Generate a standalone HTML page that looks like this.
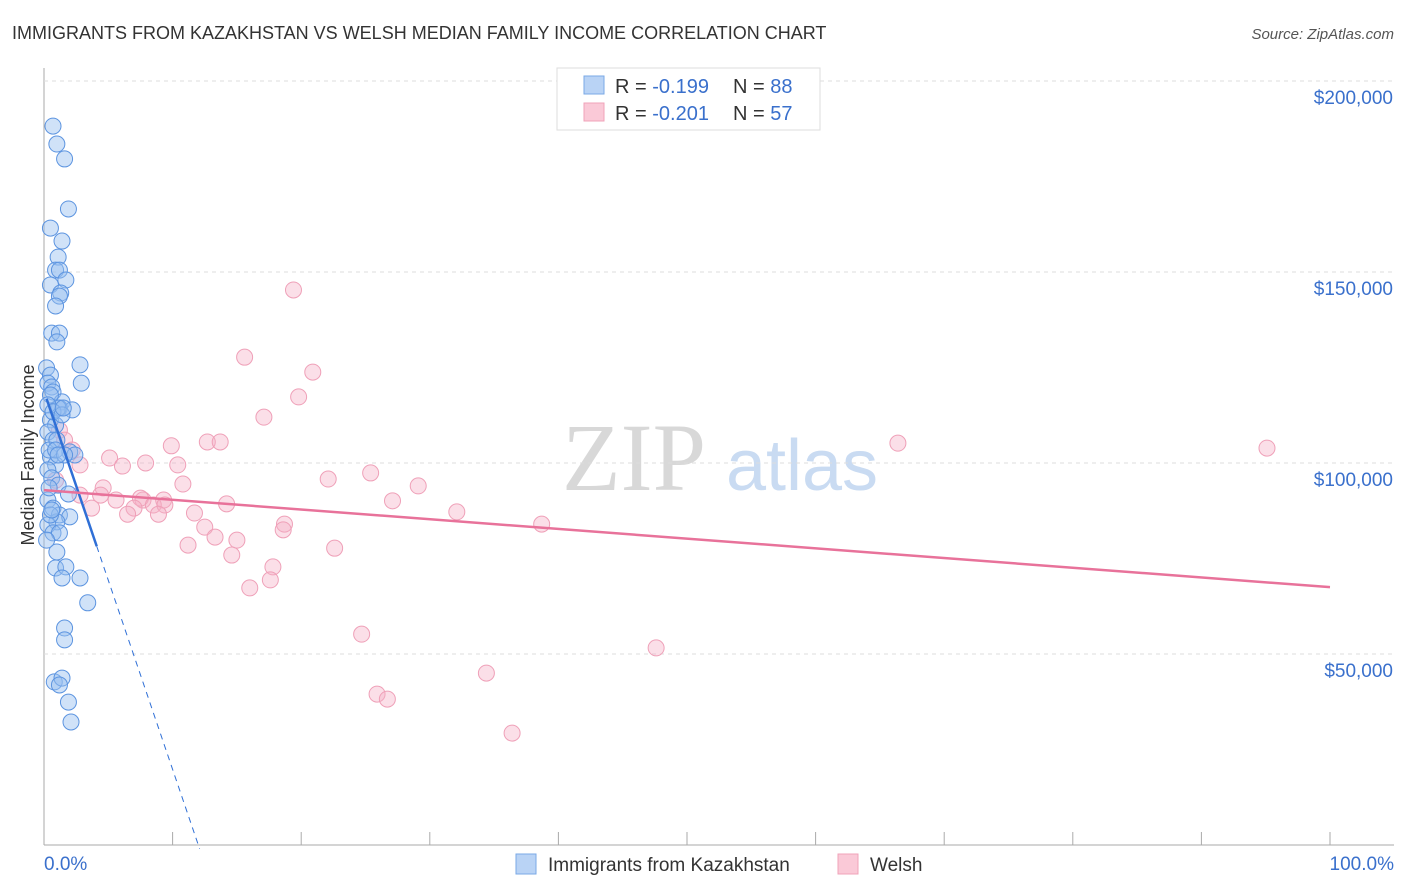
<!DOCTYPE html>
<html><head><meta charset="utf-8"><style>
body{margin:0;background:#fff;font-family:"Liberation Sans",sans-serif;}
#wrap{position:relative;width:1406px;height:892px;overflow:hidden;}
</style></head><body>
<div id="wrap">
<svg id="svg" width="1406" height="892" xmlns="http://www.w3.org/2000/svg">
<text x="12" y="39" font-size="18" fill="#333">IMMIGRANTS FROM KAZAKHSTAN VS WELSH MEDIAN FAMILY INCOME CORRELATION CHART</text>
<text x="1394" y="39" font-size="15" fill="#555" font-style="italic" text-anchor="end">Source: ZipAtlas.com</text>
<text x="34" y="455" font-size="18" fill="#333" text-anchor="middle" transform="rotate(-90 34 455)">Median Family Income</text>
<g>
<text x="634" y="490" font-size="96" fill="#d8d8d8" text-anchor="middle" font-family="Liberation Serif">ZIP</text>
<text x="802" y="490" font-size="72" fill="#c9dbf2" text-anchor="middle">atlas</text>
</g>
<g id="grid"></g><g id="pts"></g><g id="lines"></g>
<g>
<rect x="557" y="68" width="263" height="62" fill="#fff" stroke="#ddd"/>
<rect x="584" y="76" width="20" height="18" fill="#b9d3f5" stroke="#7aa8e6"/>
<rect x="584" y="103" width="20" height="18" fill="#fac9d7" stroke="#f0a3ba"/>
<text x="615" y="93" font-size="20" fill="#333">R = <tspan fill="#3a70cc">-0.199</tspan><tspan x="733">N = </tspan><tspan fill="#3a70cc">88</tspan></text>
<text x="615" y="120" font-size="20" fill="#333">R = <tspan fill="#3a70cc">-0.201</tspan><tspan x="733">N = </tspan><tspan fill="#3a70cc">57</tspan></text>
</g>
<g>
<rect x="516" y="854" width="20" height="20" fill="#b9d3f5" stroke="#7aa8e6"/>
<text x="548" y="871" font-size="19" fill="#333">Immigrants from Kazakhstan</text>
<rect x="838" y="854" width="20" height="20" fill="#fac9d7" stroke="#f0a3ba"/>
<text x="870" y="871" font-size="19" fill="#333">Welsh</text>
</g>
<text x="44" y="870" font-size="19" fill="#3a70cc">0.0%</text>
<text x="1394" y="870" font-size="19" fill="#3a70cc" text-anchor="end">100.0%</text>
</svg>
</div>
<script>
const yTicks=[50,100,150,200];
const yTickLabels=["$50,000","$100,000","$150,000","$200,000"];
const blueX=[.7,1.0,1.6,1.9,.5,1.4,1.1,.9,1.2,1.7,.5,1.3,1.2,.9,.6,1.2,1.0,2.8,2.9,.2,.5,.3,.6,.7,1.4,1.2,2.2,1.1,.5,.9,.3,.7,1.0,2.0,2.4,.5,.9,.3,.6,1.1,1.9,.3,.7,1.2,2.0,1.0,.3,.7,1.2,1.0,.9,1.7,1.4,2.8,3.4,1.6,1.6,.8,1.4,1.2,1.9,2.1,.5,.3,.7,1.4,.4,.9,.4,.5,.2,.6,1.6,1.1,1.5];
const blueY=[188.2,183.5,179.6,166.5,161.5,158.1,153.9,150.5,150.5,147.9,146.6,144.5,143.7,141.1,134,134,131.7,125.7,120.9,124.9,123,120.9,119.9,118.6,116,114.4,113.9,114.4,111.3,109.9,108.1,106,106,102.9,102.1,101.6,99.5,98.2,96.1,94.2,91.9,90.3,88.2,86.4,85.9,84.6,83.8,81.7,81.7,76.7,72.5,72.8,69.9,69.9,63.4,56.8,53.7,42.7,43.7,41.9,37.4,32.2,117.8,115.2,113.4,112.6,103.4,103.4,93.5,86.4,79.8,87.7,102.1,102.1,114.4];
const pinkX=[19.4,15.6,20.9,19.8,17.1,66.4,95.1,12.7,13.7,9.9,5.1,7.9,10.4,6.1,25.4,22.1,29.1,10.8,27.1,14.2,7.7,4.6,4.4,5.6,9.3,7.5,8.5,9.4,7.0,6.5,8.9,11.7,32.1,18.7,18.6,12.5,13.3,38.7,11.2,15.0,22.6,14.6,17.8,17.6,16.0,24.7,47.6,34.4,25.9,26.7,36.4,1.2,1.6,2.2,2.8,.9,3.7,2.8];
const pinkY=[145.3,127.7,123.8,117.3,112,105.2,103.9,105.5,105.5,104.5,101.3,100,99.5,99.2,97.4,95.8,94,94.5,90.1,89.3,90.3,93.5,91.6,90.3,90.3,90.8,89,89,88.2,86.6,86.6,86.9,87.2,84,82.5,83.2,80.6,84,78.5,79.8,77.7,75.9,72.8,69.4,67.3,55.2,51.6,45,39.5,38.2,29.3,108.6,106,103.4,99.5,95.5,88.2,91.6];
const blueTrend=[118.8,-9.9]; // intercept, slope per %
const pinkTrend=[92.9,-0.254];
const xs=v=>44+v*12.86, ys=v=>654-(v-50)*3.82;
const NS="http://www.w3.org/2000/svg";
function mk(t,a,p){const e=document.createElementNS(NS,t);for(const k in a)e.setAttribute(k,a[k]);p.appendChild(e);return e;}
const grid=document.getElementById('grid'),pts=document.getElementById('pts'),lines=document.getElementById('lines');
let ax=mk('line',{x1:44,y1:68,x2:44,y2:845,stroke:'#aaa'},grid);


let bx=mk('line',{x1:44,y1:845,x2:1394,y2:845,stroke:'#aaa'},grid);


for(let i=0;i<=10;i++){const t=mk('line',{x1:xs(i*10),y1:832,x2:xs(i*10),y2:845,stroke:'#aaa'},grid);

}
yTicks.forEach((v,i)=>{const g=mk('line',{x1:44,y1:ys(v),x2:1394,y2:ys(v),stroke:'#ddd','stroke-dasharray':'4,4'},grid);


const t=mk('text',{x:1393,y:ys(v)+23,'font-size':19,fill:'#3a70cc','text-anchor':'end'},grid);t.textContent=yTickLabels[i];

});
pinkX.forEach((x,i)=>{const c=mk('circle',{cx:xs(x),cy:ys(pinkY[i]),r:8,fill:'rgba(246,176,198,0.4)',stroke:'#efa0b8','stroke-width':1},pts);

});
blueX.forEach((x,i)=>{const c=mk('circle',{cx:xs(x),cy:ys(blueY[i]),r:8,fill:'rgba(150,190,240,0.45)',stroke:'#5c94e0','stroke-width':1},pts);

});
const bf=x=>blueTrend[0]+blueTrend[1]*x, pf=x=>pinkTrend[0]+pinkTrend[1]*x;
let l1=mk('line',{x1:xs(0.2),y1:ys(bf(0.2)),x2:xs(4.1),y2:ys(bf(4.1)),stroke:'#2f6fd6','stroke-width':2.5},lines);


let l2=mk('line',{x1:xs(4.1),y1:ys(bf(4.1)),x2:xs(12.1),y2:ys(bf(12.1)),stroke:'#2f6fd6','stroke-width':1,'stroke-dasharray':'6,5'},lines);


let l3=mk('line',{x1:xs(0),y1:ys(pf(0)),x2:xs(100),y2:ys(pf(100)),stroke:'#e8729a','stroke-width':2.5},lines);


</script>
</body></html>
